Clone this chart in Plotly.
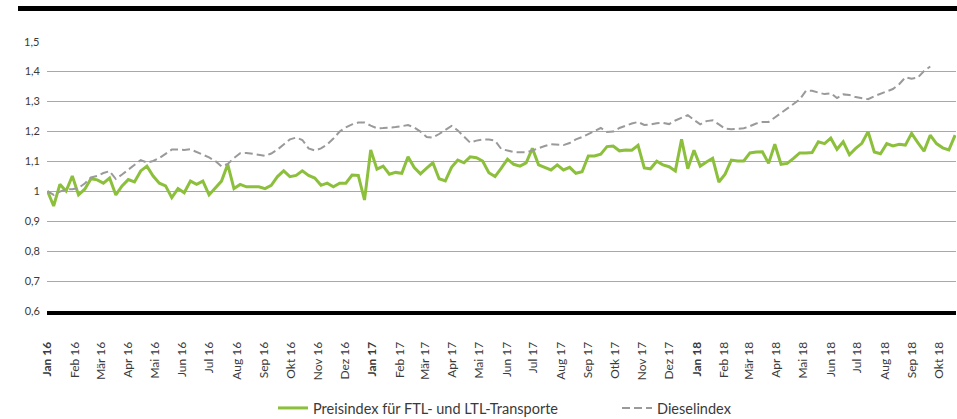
import pandas as pd
import plotly.graph_objects as go

# ---- data (weekly index values) ----
start_date = "2016-01-01"

preisindex = [
    1.0, 0.95, 1.022, 1.0, 1.05, 0.987, 1.006, 1.041, 1.037, 1.026, 1.043, 0.987, 1.017, 1.038, 1.03, 1.067,
    1.083, 1.05, 1.026, 1.017, 0.978, 1.008, 0.994, 1.033, 1.022, 1.033, 0.987, 1.011, 1.033, 1.089, 1.008,
    1.022, 1.014, 1.014, 1.014, 1.008, 1.019, 1.048, 1.067, 1.048, 1.052, 1.067, 1.052, 1.043, 1.019, 1.026,
    1.014, 1.026, 1.026, 1.053, 1.052, 0.97, 1.137, 1.073, 1.083, 1.056, 1.062, 1.059, 1.114, 1.078, 1.057,
    1.076, 1.094, 1.041, 1.034, 1.079, 1.103, 1.094, 1.114, 1.111, 1.1, 1.061, 1.048, 1.076, 1.106, 1.089,
    1.083, 1.094, 1.142, 1.087, 1.079, 1.07, 1.087, 1.07, 1.079, 1.059, 1.064, 1.117, 1.117, 1.123, 1.148,
    1.15, 1.134, 1.137,
    1.136, 1.152, 1.077, 1.074, 1.099, 1.087, 1.081, 1.067, 1.172, 1.074, 1.136, 1.083, 1.097, 1.109, 1.03,
    1.056, 1.103, 1.1, 1.1, 1.127, 1.13, 1.131, 1.092, 1.156, 1.089, 1.092, 1.109, 1.127, 1.127, 1.128,
    1.164, 1.158, 1.176, 1.139, 1.164, 1.121, 1.142, 1.159, 1.198, 1.13, 1.124, 1.158, 1.15, 1.156, 1.153,
    1.192, 1.161, 1.133, 1.186, 1.158, 1.144, 1.137, 1.186,
]

dieselindex = [
    1.0, 0.987, 0.998, 1.005, 1.006, 1.01, 1.025, 1.045, 1.05, 1.06, 1.066, 1.04, 1.055, 1.072, 1.088, 1.103,
    1.095, 1.1, 1.11, 1.125, 1.138, 1.138, 1.137, 1.139, 1.13, 1.122, 1.112, 1.1, 1.082, 1.09, 1.11, 1.126,
    1.127, 1.124, 1.12, 1.117, 1.125, 1.138, 1.155, 1.172, 1.178, 1.17, 1.142, 1.135, 1.142, 1.155, 1.175,
    1.198, 1.212, 1.222, 1.228, 1.228, 1.218, 1.209, 1.21, 1.211, 1.213, 1.216, 1.22, 1.212, 1.198, 1.18,
    1.178, 1.19, 1.205, 1.217, 1.202, 1.182, 1.161, 1.168, 1.172, 1.172, 1.168, 1.14, 1.135, 1.13, 1.129,
    1.129, 1.135, 1.143, 1.15, 1.156, 1.155, 1.153, 1.16, 1.172, 1.18, 1.19, 1.202, 1.21, 1.197, 1.198, 1.21,
    1.218, 1.225, 1.23, 1.22, 1.222, 1.226, 1.227, 1.223, 1.235, 1.244, 1.253, 1.237, 1.222, 1.233, 1.236,
    1.222, 1.208, 1.206, 1.207, 1.209, 1.216, 1.225, 1.23, 1.23, 1.245, 1.26, 1.275, 1.288, 1.305, 1.334,
    1.334, 1.328, 1.323, 1.326, 1.31, 1.322, 1.32, 1.313, 1.309, 1.306, 1.316, 1.324, 1.331, 1.34, 1.356,
    1.379, 1.374, 1.378, 1.4, 1.415,
]

month_labels = [
    "<b>Jan 16</b>", "Feb 16", "Mär 16", "Apr 16", "Mai 16", "Jun 16", "Jul 16", "Aug 16", "Sep 16", "Okt 16", "Nov 16", "Dez 16",
    "<b>Jan 17</b>", "Feb 17", "Mär 17", "Apr 17", "Mai 17", "Jun 17", "Jul 17", "Aug 17", "Sep 17", "Otk 17", "Nov 17", "Dez 17",
    "<b>Jan 18</b>", "Feb 18", "Mär 18", "Apr 18", "Mai 18", "Jun 18", "Jul 18", "Aug 18", "Sep 18", "Okt 18",
]
y_tickvals = [0.6, 0.7, 0.8, 0.9, 1.0, 1.1, 1.2, 1.3, 1.4]
y_ticktext = ["0,6", "0,7", "0,8", "0,9", "1", "1,1", "1,2", "1,3", "1,4"]

name_preis = "Preisindex für FTL- und LTL-Transporte"
name_diesel = "Dieselindex"

# ---- figure ----
dates_p = pd.date_range(start_date, periods=len(preisindex), freq="7D")
dates_d = pd.date_range(start_date, periods=len(dieselindex), freq="7D")
month_ticks = pd.date_range(start_date, periods=len(month_labels), freq="MS")

FONT = "Lato, 'Open Sans', sans-serif"
TXT = "#3a3a3a"
PLOT_W, PLOT_H = 909, 270

fig = go.Figure()
fig.add_trace(go.Scatter(x=dates_p, y=preisindex, mode="lines", name=name_preis,
                         line=dict(color="#8cc03c", width=3), legend="legend"))
fig.add_trace(go.Scatter(x=dates_d, y=dieselindex, mode="lines", name=name_diesel,
                         line=dict(color="#9a9a9a", width=2, dash="8px,4px"), legend="legend2"))

legend_common = dict(orientation="h", yanchor="middle", xanchor="left",
                     font=dict(size=14.5, color=TXT, family=FONT), bgcolor="rgba(0,0,0,0)",
                     itemwidth=30)

fig.update_layout(
    width=957, height=419,
    margin=dict(l=47, r=1, t=41, b=108, autoexpand=False),
    paper_bgcolor="white", plot_bgcolor="white",
    font=dict(family=FONT, size=11, color=TXT),
    showlegend=True,
    legend=dict(x=(273 - 47) / PLOT_W, y=-(408 - 311) / PLOT_H, **legend_common),
    legend2=dict(x=(617 - 47) / PLOT_W, y=-(408 - 311) / PLOT_H, **legend_common),
    xaxis=dict(
        type="date",
        range=["2015-12-31 12:00", "2018-10-20"],
        tickvals=month_ticks, ticktext=month_labels,
        tickangle=-90, tickfont=dict(size=12, color=TXT, family=FONT),
        showgrid=False, zeroline=False, automargin=False,
        showline=True, linecolor="black", linewidth=4,
        ticks="", ticklabelstandoff=22,
    ),
    yaxis=dict(
        range=[0.6, 1.5], automargin=False,
        tickvals=y_tickvals, ticktext=y_ticktext,
        tickfont=dict(size=11, color=TXT, family=FONT),
        showgrid=True, gridcolor="#a8a8a8", gridwidth=1,
        zeroline=False, showline=False, ticks="", ticklabelstandoff=6,
    ),
)

# "1,5" label at the top of the value axis
fig.add_annotation(xref="paper", yref="y", x=0, y=1.5, text="1,5", showarrow=False,
                   xanchor="right", yanchor="middle", xshift=-6,
                   font=dict(size=11, color=TXT, family=FONT))

# thick rule at the top of the figure
fig.add_shape(type="rect", xref="paper", yref="paper",
              x0=(18 - 47) / PLOT_W, x1=1.002, y0=(311 - 11) / PLOT_H, y1=(311 - 6) / PLOT_H,
              fillcolor="black", line=dict(width=0))

fig.write_html("out.html", config={"displayModeBar": False},
               post_script="document.body.style.margin='0';document.body.style.overflow='hidden';")
